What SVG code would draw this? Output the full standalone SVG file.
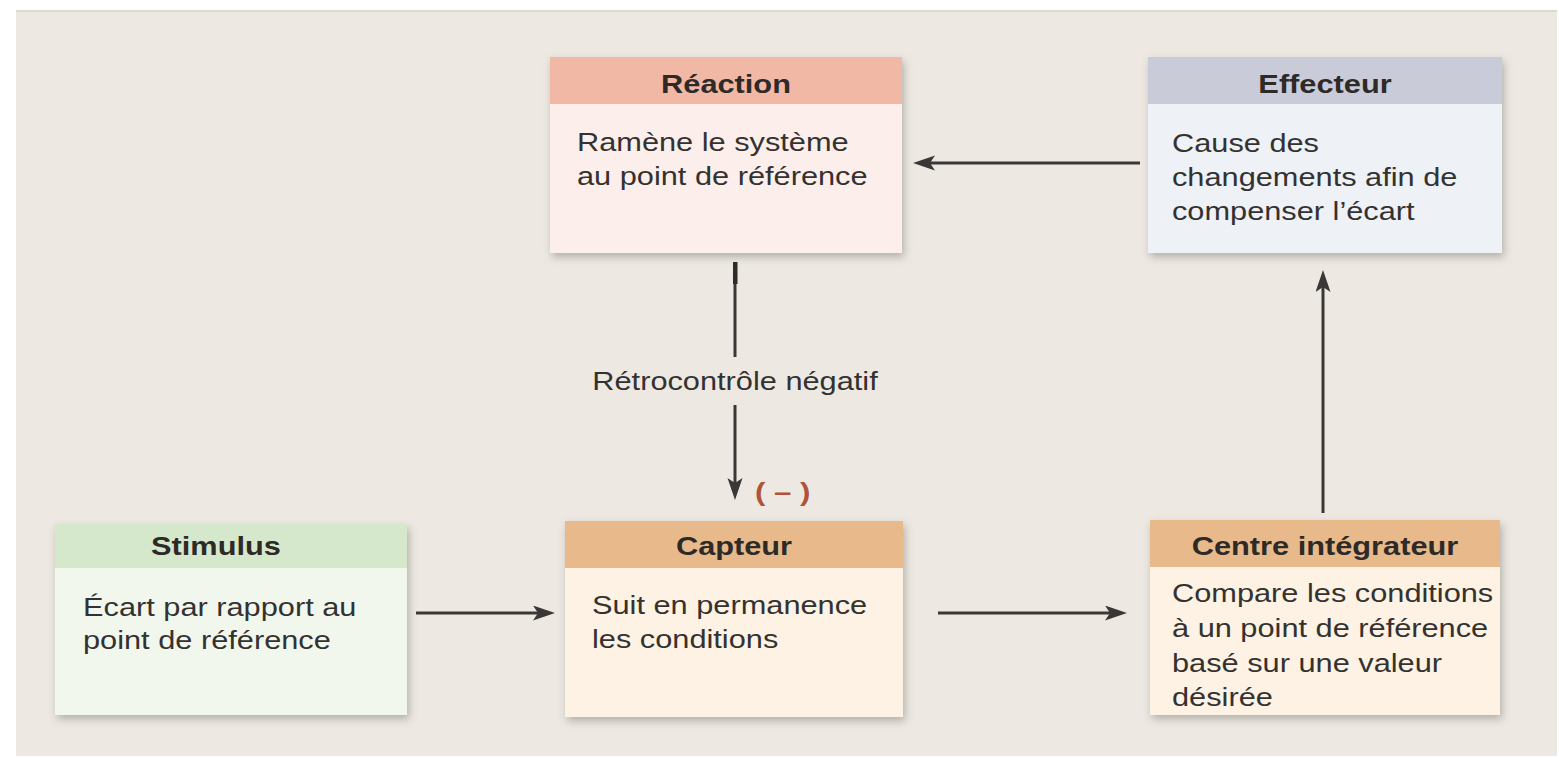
<svg xmlns="http://www.w3.org/2000/svg" width="1559" height="758" viewBox="0 0 1559 758">
<style>
.hd{font-family:"Liberation Sans",Arial,sans-serif;font-weight:bold;font-size:25px;fill:#2e2a28;text-anchor:middle}
.bd{font-family:"Liberation Sans",Arial,sans-serif;font-size:25px;fill:#343231}
.lbl{font-family:"Liberation Sans",Arial,sans-serif;font-size:25px;fill:#343231;text-anchor:middle}
.neg{font-family:"Liberation Sans",Arial,sans-serif;font-weight:bold;font-size:26px;fill:#b0533a}
.conn{stroke:#3a3836;stroke-width:3;fill:none}
</style>
<defs>
<filter id="sh" x="-10%" y="-10%" width="125%" height="130%">
<feDropShadow dx="2" dy="4" stdDeviation="4" flood-color="#000" flood-opacity="0.25"/>
</filter>
<marker id="ah" markerUnits="userSpaceOnUse" markerWidth="24" markerHeight="16" refX="15" refY="7.5" orient="auto">
<path d="M0,0 L22,7.5 L0,15 L5,7.5 z" fill="#3a3836"/>
</marker>
</defs>
<rect x="0" y="0" width="1559" height="758" fill="#ffffff"/>
<rect x="16" y="10" width="1541" height="746" fill="#ede9e2"/>
<rect x="16" y="10" width="1541" height="2" fill="#dcd8d2"/>

<g id="reaction">
<rect x="550" y="57" width="352" height="196" fill="#fcefeb" filter="url(#sh)"/>
<rect x="550" y="57" width="352" height="47" fill="#f0b8a5"/>
<text class="hd" transform="translate(726,93) scale(1.23,1)">Réaction</text>
<text class="bd" transform="translate(577,151) scale(1.23,1)">Ramène le système</text>
<text class="bd" transform="translate(577,185) scale(1.23,1)">au point de référence</text>
</g>

<g id="effecteur">
<rect x="1148" y="57" width="354" height="196" fill="#eef1f6" filter="url(#sh)"/>
<rect x="1148" y="57" width="354" height="47" fill="#c9ccd8"/>
<text class="hd" transform="translate(1325,93) scale(1.23,1)">Effecteur</text>
<text class="bd" transform="translate(1172,152) scale(1.23,1)">Cause des</text>
<text class="bd" transform="translate(1172,186) scale(1.23,1)">changements afin de</text>
<text class="bd" transform="translate(1172,220) scale(1.23,1)">compenser l’écart</text>
</g>

<g id="stimulus">
<rect x="55" y="524" width="352" height="191" fill="#f2f7ee" filter="url(#sh)"/>
<rect x="55" y="524" width="352" height="44" fill="#d6e8cc"/>
<text class="hd" transform="translate(216,555) scale(1.23,1)">Stimulus</text>
<text class="bd" transform="translate(83,616) scale(1.23,1)">Écart par rapport au</text>
<text class="bd" transform="translate(83,649) scale(1.23,1)">point de référence</text>
</g>

<g id="capteur">
<rect x="565" y="521" width="338" height="196" fill="#fdf2e3" filter="url(#sh)"/>
<rect x="565" y="521" width="338" height="47" fill="#e8b98a"/>
<text class="hd" transform="translate(734,555) scale(1.23,1)">Capteur</text>
<text class="bd" transform="translate(592,614) scale(1.23,1)">Suit en permanence</text>
<text class="bd" transform="translate(592,648) scale(1.23,1)">les conditions</text>
</g>

<g id="centre">
<rect x="1150" y="520" width="350" height="195" fill="#fdf2e3" filter="url(#sh)"/>
<rect x="1150" y="520" width="350" height="47" fill="#e8b98a"/>
<text class="hd" transform="translate(1325,555) scale(1.23,1)">Centre intégrateur</text>
<text class="bd" transform="translate(1172,602) scale(1.23,1)">Compare les conditions</text>
<text class="bd" transform="translate(1172,637) scale(1.23,1)">à un point de référence</text>
<text class="bd" transform="translate(1172,672) scale(1.23,1)">basé sur une valeur</text>
<text class="bd" transform="translate(1172,706) scale(1.23,1)">désirée</text>
</g>

<g id="connectors">
<line class="conn" x1="1140" y1="163" x2="920" y2="163" marker-end="url(#ah)"/>
<line class="conn" x1="416" y1="613" x2="548" y2="613" marker-end="url(#ah)"/>
<line class="conn" x1="938" y1="613" x2="1120" y2="613" marker-end="url(#ah)"/>
<line class="conn" x1="1323" y1="513" x2="1323" y2="277" marker-end="url(#ah)"/>
<line class="conn" x1="735" y1="262" x2="735" y2="357"/>
<rect x="733" y="262" width="4.5" height="22" fill="#2e2c2a"/>
<line class="conn" x1="735" y1="405" x2="735" y2="493" marker-end="url(#ah)"/>
<text class="lbl" transform="translate(735,390) scale(1.23,1)">Rétrocontrôle négatif</text>
<text class="neg" transform="translate(755,501) scale(1.2,1)">( – )</text>
</g>
</svg>
